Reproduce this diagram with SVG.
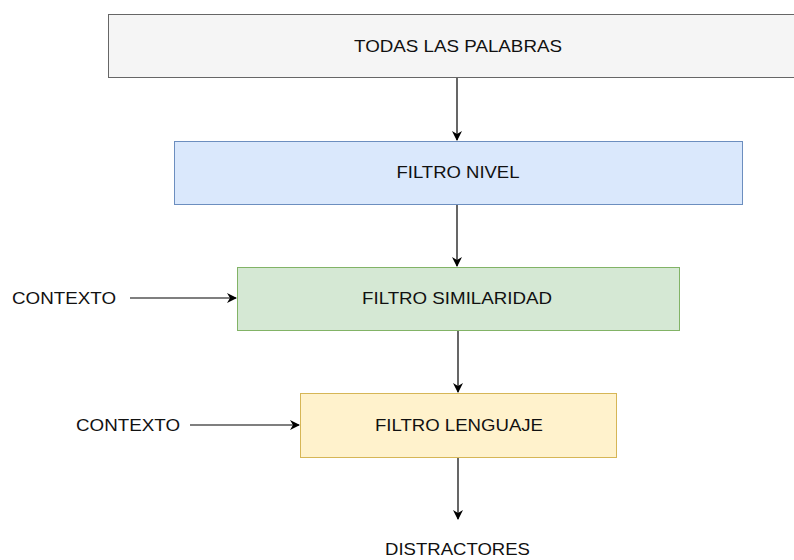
<svg xmlns="http://www.w3.org/2000/svg" width="794" height="560" viewBox="0 0 794 560">
<style>
text{font-family:"Liberation Sans",Arial,sans-serif;font-size:17px;fill:#111;text-anchor:middle}
.e{stroke:#000;stroke-width:1.2;fill:none;marker-end:url(#ah)}
</style>
<defs>
<marker id="ah" viewBox="0 0 10 10" refX="9" refY="5" markerWidth="10" markerHeight="10" markerUnits="userSpaceOnUse" orient="auto">
<path d="M0,0 L10,5 L0,10 L3,5 Z" fill="#000"/>
</marker>
</defs>
<rect width="794" height="560" fill="#fff"/>
<g id="connectors">
<line class="e" x1="457" y1="78" x2="457" y2="140"/>
<line class="e" x1="457" y1="205" x2="457" y2="266"/>
<line class="e" x1="458" y1="331" x2="458" y2="392"/>
<line class="e" x1="458" y1="458" x2="458" y2="519"/>
<line class="e" x1="130" y1="298" x2="236" y2="298"/>
<line class="e" x1="190" y1="425" x2="299" y2="425"/>
</g>
<g id="todas">
<rect x="108.5" y="14.5" width="698" height="63" fill="#f5f5f5" stroke="#666"/>
<text x="458" y="52" textLength="208" lengthAdjust="spacingAndGlyphs">TODAS LAS PALABRAS</text>
</g>
<g id="nivel">
<rect x="174.5" y="141.5" width="568" height="63" fill="#dae8fc" stroke="#6c8ebf"/>
<text x="458" y="178" textLength="123" lengthAdjust="spacingAndGlyphs">FILTRO NIVEL</text>
</g>
<g id="similaridad">
<rect x="237.5" y="267.5" width="442" height="63" fill="#d5e8d4" stroke="#82b366"/>
<text x="457" y="304" textLength="190" lengthAdjust="spacingAndGlyphs">FILTRO SIMILARIDAD</text>
</g>
<g id="lenguaje">
<rect x="300.5" y="393.5" width="316" height="64" fill="#fff2cc" stroke="#d6b656"/>
<text x="459" y="431" textLength="168" lengthAdjust="spacingAndGlyphs">FILTRO LENGUAJE</text>
</g>
<g id="contexto1">
<text x="64" y="304" textLength="104" lengthAdjust="spacingAndGlyphs">CONTEXTO</text>
</g>
<g id="contexto2">
<text x="128" y="431" textLength="104" lengthAdjust="spacingAndGlyphs">CONTEXTO</text>
</g>
<g id="distractores">
<text x="457.5" y="555" textLength="145" lengthAdjust="spacingAndGlyphs">DISTRACTORES</text>
</g>
</svg>
